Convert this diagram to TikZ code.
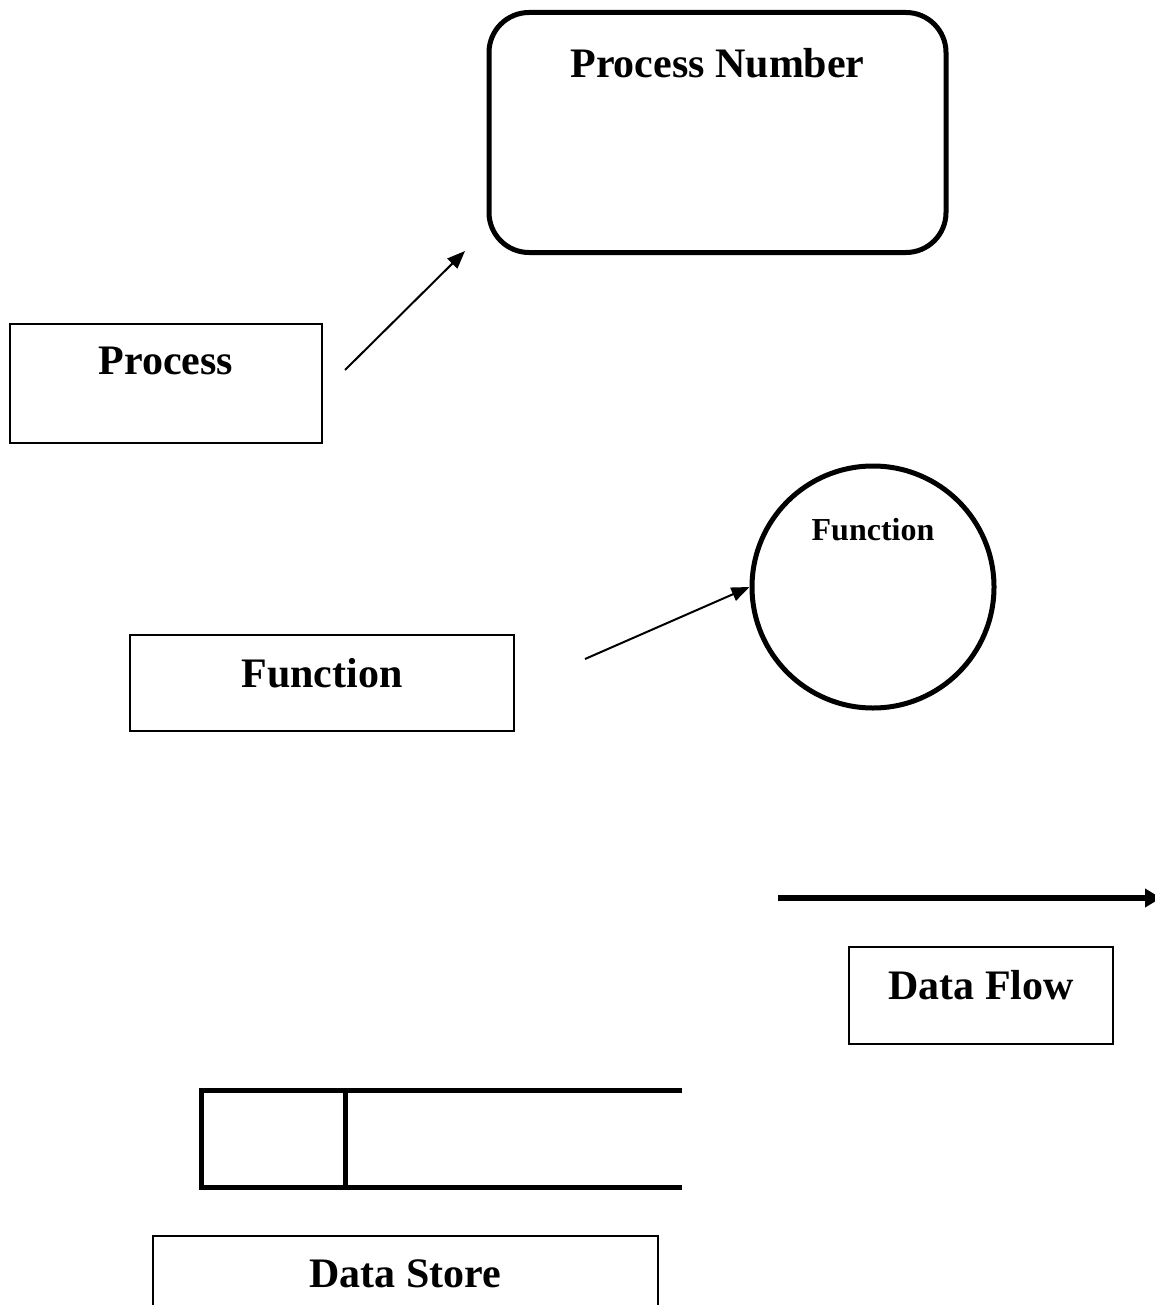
\documentclass[tikz,border=0pt]{standalone}
\usepackage{fontspec}
\setmainfont{Liberation Serif}
\usetikzlibrary{arrows.meta, positioning}

\begin{document}
\begin{tikzpicture}[x=0.5pt, y=-0.5pt, >={Triangle[length=9pt, width=7pt]},
	box/.style	={draw, line width=1pt, inner sep=0pt, anchor=north,
				  font=\fontsize{21}{25}\selectfont\bfseries},
	heavy/.style	={line width=2.5pt}]
	\useasboundingbox (0,0) rectangle (1155,1305);
	\clip (0,0) rectangle (1155,1305);

	\node[box, heavy, rounded corners=20pt, minimum width=228.5pt, text height=32.5pt, text depth=87.5pt]	(PN)	at (717.5,10)	{Process Number};
	\node[box, minimum width=156pt, text height=25pt, text depth=34.5pt]	(P)	at (166,323)	{Process};
	\node[box, minimum width=192pt, text height=26pt, text depth=22pt]	(F)	at (322,634)	{Function};
	\node[draw, heavy, circle, inner sep=0pt, minimum size=121pt, text height=12pt, text depth=59pt,
		  font=\fontsize{16}{19}\selectfont\bfseries]	(FC)	at (873,587)	{Function};
	\node[box, minimum width=132pt, text height=26pt, text depth=22.5pt]	(DF)	at (981,946)	{Data Flow};
	\node[box, minimum width=252.5pt, text height=25.5pt, text depth=30pt]	(DS)	at (405.5,1235)	{Data Store};

	\coordinate (p1) at (345,370);
	\coordinate (p2) at (465,251);
	\coordinate (f1) at (585,659);
	\coordinate (d1) at (778,898);
	\coordinate (d2) at (1161,898);

	\path[->, line width=1pt]
	(p1) edge (p2)
	(f1) edge (FC.west);
	\draw[->, line width=3pt, >={Triangle[length=8pt, width=9pt]}] (d1) -- (d2);

	% data store symbol
	\draw[heavy] (682,1090) -- (201,1090) -- (201,1187) -- (682,1187);
	\draw[heavy] (345,1090) -- (345,1187);
\end{tikzpicture}
\end{document}
